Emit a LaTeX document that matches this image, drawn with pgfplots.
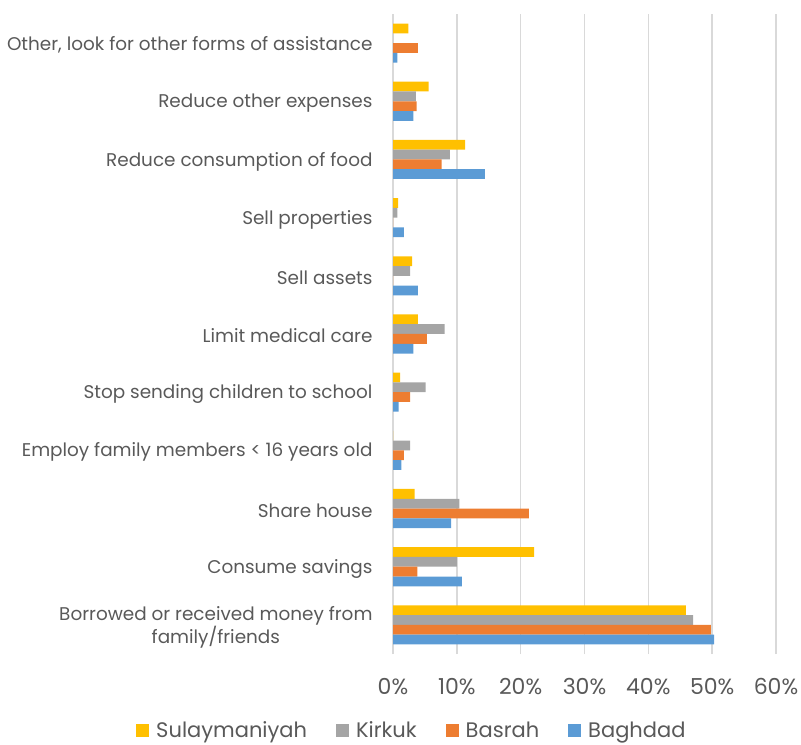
\documentclass[border=0pt]{standalone}
\usepackage{pgfplots}
\pgfplotsset{compat=1.18}
\usepackage{fontspec}
\setmainfont{Poppins}
\definecolor{sul}{HTML}{FFC000}
\definecolor{kir}{HTML}{A5A5A5}
\definecolor{bas}{HTML}{ED7D31}
\definecolor{bag}{HTML}{5B9BD5}
\definecolor{txt}{HTML}{595959}
\definecolor{grd}{HTML}{D9D9D9}
\begin{document}
\begin{tikzpicture}
\useasboundingbox (0,0) rectangle (801bp,745bp);
\begin{axis}[
  at={(393bp,91bp)}, anchor=south west,
  scale only axis, width=383bp, height=640bp,
  xbar, bar width=0.168,
  xmin=0, xmax=60, ymin=-0.5, ymax=10.5,
  xtick={0,10,20,30,40,50,60},
  xticklabel={\pgfmathprintnumber{\tick}\%},
  ytick={0,...,10},
  yticklabels={{Borrowed or received money from\\family/friends},Consume savings,Share house,Employ family members < 16 years old,Stop sending children to school,Limit medical care,Sell assets,Sell properties,Reduce consumption of food,Reduce other expenses,{Other, look for other forms of assistance}},
  yticklabel style={align=center, font=\fontsize{18.4bp}{22bp}\selectfont, text=txt, xshift=-17bp, yshift=-2bp},
  xticklabel style={font=\fontsize{22bp}{24bp}\selectfont, text=txt, yshift=-21bp},
  /pgf/number format/assume math mode=true,
  major tick length=0pt,
  axis line style={draw=none},
  xmajorgrids, grid style={grd, line width=1.5bp},
  legend style={at={(0.048,-0.119)}, anchor=center, draw=none, legend columns=4, font=\fontsize{21bp}{24bp}\selectfont, text=txt, nodes={inner sep=1bp}},
  legend image code/.code={\fill[#1] (0bp,-6.5bp) rectangle (13bp,6.5bp);},
  every axis plot/.append style={draw=none},
]
\addplot[fill=sul, bar shift=0.252] coordinates {(45.9,0) (22.1,1) (3.4,2) (0,3) (1.1,4) (3.9,5) (3.0,6) (0.8,7) (11.3,8) (5.6,9) (2.4,10)};
\addlegendentry{\kern6bp Sulaymaniyah\kern28bp}
\addplot[fill=kir, bar shift=0.084] coordinates {(47.0,0) (10.0,1) (10.4,2) (2.7,3) (5.1,4) (8.1,5) (2.7,6) (0.7,7) (8.9,8) (3.6,9) (0,10)};
\addlegendentry{\kern6bp Kirkuk\kern28bp}
\addplot[fill=bas, bar shift=-0.084] coordinates {(49.8,0) (3.8,1) (21.3,2) (1.7,3) (2.7,4) (5.3,5) (0,6) (0,7) (7.6,8) (3.7,9) (3.9,10)};
\addlegendentry{\kern6bp Basrah\kern28bp}
\addplot[fill=bag, bar shift=-0.252] coordinates {(50.3,0) (10.8,1) (9.1,2) (1.3,3) (0.9,4) (3.2,5) (3.9,6) (1.7,7) (14.4,8) (3.2,9) (0.7,10)};
\addlegendentry{\kern6bp Baghdad}
\end{axis}
\end{tikzpicture}
\end{document}
